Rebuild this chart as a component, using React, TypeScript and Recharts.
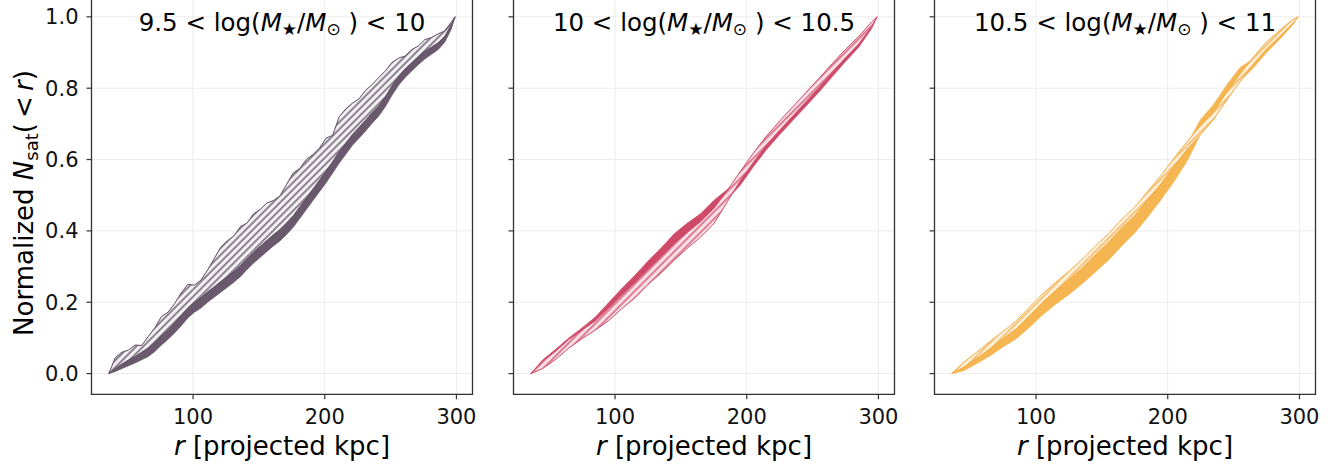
import React from 'react';
import { ComposedChart, Area, XAxis, YAxis, CartesianGrid, ReferenceArea } from 'recharts';

// ---- data (projected radius in kpc, normalized cumulative counts) ----
// panel 1 (9.5 < log M < 10) sampled more finely to keep its jagged edge
const R1 = [36, 41, 46, 51, 56, 61, 66, 71, 76, 81, 86, 91, 96, 101, 106, 111, 116, 121, 126, 131, 136, 141, 146, 151, 156, 161, 166, 171, 176, 181, 186, 191, 196, 201, 206, 211, 216, 221, 226, 231, 236, 241, 246, 251, 256, 261, 266, 271, 276, 281, 286, 291, 296, 299];
const P1_HATCH_HI = [0, 0.045, 0.06, 0.066, 0.08, 0.079, 0.104, 0.128, 0.16, 0.172, 0.196, 0.226, 0.25, 0.248, 0.262, 0.29, 0.322, 0.354, 0.372, 0.386, 0.412, 0.422, 0.448, 0.46, 0.478, 0.485, 0.498, 0.53, 0.562, 0.575, 0.6, 0.614, 0.632, 0.66, 0.668, 0.72, 0.742, 0.758, 0.77, 0.794, 0.81, 0.83, 0.848, 0.872, 0.884, 0.89, 0.908, 0.918, 0.936, 0.942, 0.952, 0.96, 0.985, 1.0];
const P1_HATCH_LO = [0, 0.014, 0.027, 0.038, 0.048, 0.06, 0.072, 0.088, 0.106, 0.123, 0.142, 0.162, 0.184, 0.2, 0.213, 0.229, 0.243, 0.258, 0.272, 0.286, 0.302, 0.322, 0.34, 0.357, 0.373, 0.389, 0.404, 0.422, 0.442, 0.467, 0.492, 0.517, 0.542, 0.567, 0.594, 0.622, 0.646, 0.67, 0.69, 0.71, 0.731, 0.75, 0.776, 0.806, 0.833, 0.854, 0.871, 0.888, 0.903, 0.915, 0.927, 0.945, 0.976, 1.0];
const P1_SOLID_HI = [0, 0.022, 0.037, 0.05, 0.062, 0.074, 0.087, 0.103, 0.121, 0.138, 0.157, 0.177, 0.199, 0.215, 0.228, 0.244, 0.258, 0.273, 0.287, 0.301, 0.317, 0.337, 0.355, 0.372, 0.388, 0.404, 0.419, 0.437, 0.457, 0.482, 0.507, 0.532, 0.557, 0.582, 0.609, 0.637, 0.661, 0.685, 0.705, 0.725, 0.746, 0.765, 0.791, 0.821, 0.848, 0.869, 0.886, 0.903, 0.918, 0.928, 0.938, 0.952, 0.98, 1.0];
const P1_SOLID_LO = [0, 0.006, 0.014, 0.022, 0.03, 0.039, 0.048, 0.062, 0.08, 0.096, 0.114, 0.134, 0.156, 0.172, 0.184, 0.2, 0.214, 0.228, 0.242, 0.256, 0.272, 0.292, 0.31, 0.326, 0.342, 0.358, 0.372, 0.39, 0.41, 0.435, 0.46, 0.485, 0.51, 0.535, 0.562, 0.59, 0.615, 0.64, 0.66, 0.68, 0.702, 0.722, 0.748, 0.78, 0.808, 0.83, 0.848, 0.866, 0.882, 0.895, 0.908, 0.928, 0.965, 1.0];

// panels 2 and 3
const R = [36, 45, 55, 65, 75, 85, 95, 105, 115, 125, 135, 145, 155, 165, 175, 185, 195, 205, 215, 225, 235, 245, 255, 265, 275, 285, 295, 299];

const P2_SOLID_LO = [0, 0.016, 0.043, 0.076, 0.103, 0.13, 0.168, 0.205, 0.24, 0.278, 0.314, 0.35, 0.382, 0.413, 0.45, 0.488, 0.528, 0.58, 0.628, 0.67, 0.71, 0.75, 0.79, 0.833, 0.875, 0.915, 0.968, 1];
const P2_SOLID_HI = [0, 0.038, 0.068, 0.1, 0.128, 0.158, 0.198, 0.238, 0.275, 0.315, 0.352, 0.392, 0.422, 0.448, 0.485, 0.515, 0.552, 0.604, 0.652, 0.694, 0.734, 0.774, 0.814, 0.856, 0.896, 0.934, 0.98, 1];
const P2_HATCH_LO = [0, 0.014, 0.04, 0.072, 0.098, 0.122, 0.148, 0.182, 0.212, 0.25, 0.282, 0.318, 0.352, 0.383, 0.42, 0.48, 0.54, 0.592, 0.64, 0.682, 0.722, 0.762, 0.802, 0.844, 0.885, 0.924, 0.973, 1];
const P2_HATCH_HI = [0, 0.035, 0.063, 0.096, 0.122, 0.148, 0.183, 0.22, 0.255, 0.292, 0.328, 0.365, 0.396, 0.426, 0.463, 0.512, 0.566, 0.618, 0.666, 0.708, 0.748, 0.788, 0.828, 0.869, 0.909, 0.945, 0.986, 1];

const P3_SOLID_LO = [0, 0.008, 0.028, 0.05, 0.075, 0.098, 0.13, 0.165, 0.195, 0.222, 0.252, 0.285, 0.318, 0.358, 0.395, 0.44, 0.488, 0.54, 0.598, 0.672, 0.715, 0.77, 0.82, 0.857, 0.9, 0.937, 0.978, 1];
const P3_SOLID_HI = [0, 0.024, 0.05, 0.078, 0.106, 0.135, 0.172, 0.21, 0.242, 0.272, 0.306, 0.343, 0.378, 0.418, 0.453, 0.498, 0.543, 0.593, 0.645, 0.712, 0.755, 0.81, 0.858, 0.882, 0.925, 0.958, 0.99, 1];
const P3_HATCH_LO = [0, 0.018, 0.043, 0.07, 0.098, 0.126, 0.163, 0.2, 0.233, 0.263, 0.296, 0.333, 0.368, 0.408, 0.443, 0.488, 0.533, 0.583, 0.63, 0.67, 0.713, 0.768, 0.818, 0.867, 0.91, 0.945, 0.982, 1];
const P3_HATCH_HI = [0, 0.032, 0.06, 0.09, 0.118, 0.148, 0.186, 0.224, 0.256, 0.287, 0.32, 0.357, 0.392, 0.432, 0.467, 0.512, 0.556, 0.605, 0.652, 0.695, 0.735, 0.79, 0.84, 0.887, 0.93, 0.962, 0.993, 1];

const X_TICKS = [100, 200, 300];
const Y_TICKS = [0, 0.2, 0.4, 0.6, 0.8, 1.0];
const BIN_LO = ['9.5', '10', '10.5'];
const BIN_HI = ['10', '10.5', '11'];

// ---- layout ----
const X_MIN = 22.9, X_MAX = 312.2, Y_MIN = -0.058, Y_MAX = 1.05;
const PANEL_LEFTS = [91.5, 513.2, 934.9];
const Y_AXIS_W = 91.5;
const PLOT_W = 381;
const PLOT_H = 395.3;
const CHART_TOP = -1;
const CHART_H = 469;
const RIGHT_M = 4;
const FONT = 'DejaVu Sans';

type Colors = { solid: string; line: string; bg: string };
const COLORS: Colors[] = [
  { solid: '#6a596d', line: '#5b4a5f', bg: '#f1eff2' },
  { solid: '#cf4a69', line: '#cf4a69', bg: '#f8dfe5' },
  { solid: '#f5b550', line: '#f2ad45', bg: '#fdf0db' },
];

function rows(rs: number[], hLo: number[], hHi: number[], sLo: number[], sHi: number[]) {
  return rs.map((r, i) => ({ r, hatch: [hLo[i], hHi[i]], solid: [sLo[i], sHi[i]] }));
}
const DATA = [
  rows(R1, P1_HATCH_LO, P1_HATCH_HI, P1_SOLID_LO, P1_SOLID_HI),
  rows(R, P2_HATCH_LO, P2_HATCH_HI, P2_SOLID_LO, P2_SOLID_HI),
  rows(R, P3_HATCH_LO, P3_HATCH_HI, P3_SOLID_LO, P3_SOLID_HI),
];

const CX = Y_AXIS_W + PLOT_W / 2;

function Title({ lo, hi }: { lo: string; hi: string }) {
  return (
    <text x={CX} y={31.7} textAnchor="middle" fontSize={24.5} fontFamily={FONT} fill="#000">
      <tspan>{lo + ' < log('}</tspan>
      <tspan fontStyle="italic">M</tspan>
      <tspan fontSize={17} dy={4}>★</tspan>
      <tspan dy={-4}>/</tspan>
      <tspan fontStyle="italic">M</tspan>
      <tspan fontSize={17} dy={4}>{'⊙'}</tspan>
      <tspan dy={-4}>{' ) < ' + hi}</tspan>
    </text>
  );
}

function XLabel() {
  return (
    <text x={CX} y={456} textAnchor="middle" fontSize={26} fontFamily={FONT} fill="#000">
      <tspan fontStyle="italic">r</tspan>
      <tspan>{' [projected kpc]'}</tspan>
    </text>
  );
}

function YLabel() {
  return (
    <text x={33} y={204} transform="rotate(-90, 33, 204)" textAnchor="middle" fontSize={26} fontFamily={FONT} fill="#000">
      <tspan>{'Normalized '}</tspan>
      <tspan fontStyle="italic">N</tspan>
      <tspan fontSize={18} dy={5}>sat</tspan>
      <tspan dy={-5}>{'(\u2009<\u2009'}</tspan>
      <tspan fontStyle="italic">r</tspan>
      <tspan>)</tspan>
    </text>
  );
}

function Panel({ idx }: { idx: number }) {
  const c = COLORS[idx];
  const pid = 'hatch' + idx;
  return (
    <div style={{ position: 'absolute', left: PANEL_LEFTS[idx] - Y_AXIS_W, top: CHART_TOP }}>
      <ComposedChart
        width={Y_AXIS_W + PLOT_W + RIGHT_M}
        height={CHART_H}
        data={DATA[idx]}
        margin={{ top: 0, right: RIGHT_M, left: 0, bottom: 0 }}
      >
        <defs>
          <pattern id={pid} patternUnits="userSpaceOnUse" width={5} height={5} patternTransform="rotate(45)">
            <rect x={0} y={0} width={5} height={5} fill={c.bg} />
            <line x1={2} y1={0} x2={2} y2={5} stroke={c.line} strokeWidth={1.3} />
          </pattern>
        </defs>
        <CartesianGrid stroke="#ececec" strokeWidth={1} />
        <XAxis
          type="number"
          dataKey="r"
          domain={[X_MIN, X_MAX]}
          ticks={X_TICKS}
          allowDataOverflow
          height={CHART_H - PLOT_H}
          axisLine={false}
          tickSize={5}
          tickMargin={10}
          tickLine={{ stroke: '#333', strokeWidth: 1.2 }}
          tick={{ fontSize: 21, fill: '#111', fontFamily: FONT }}
          label={<XLabel />}
        />
        <YAxis
          type="number"
          domain={[Y_MIN, Y_MAX]}
          ticks={Y_TICKS}
          allowDataOverflow
          width={Y_AXIS_W}
          axisLine={false}
          tickSize={5}
          tickMargin={8}
          tickLine={{ stroke: '#333', strokeWidth: 1.2 }}
          tick={{ fontSize: 21, fill: '#111', fontFamily: FONT }}
          tickFormatter={(v: number) => (idx === 0 ? v.toFixed(1) : '')}
          label={idx === 0 ? <YLabel /> : undefined}
        />
        <Area
          type="linear"
          dataKey="solid"
          fill={c.solid}
          fillOpacity={1}
          stroke={c.solid}
          strokeWidth={0.8}
          isAnimationActive={false}
          dot={false}
          activeDot={false}
        />
        <Area
          type="linear"
          dataKey="hatch"
          fill={`url(#${pid})`}
          fillOpacity={1}
          stroke={c.line}
          strokeWidth={1}
          isAnimationActive={false}
          dot={false}
          activeDot={false}
        />
        <ReferenceArea
          x1={X_MIN}
          x2={X_MAX}
          y1={Y_MIN}
          y2={Y_MAX}
          fill="none"
          stroke="#333"
          strokeWidth={1.3}
          label={<Title lo={BIN_LO[idx]} hi={BIN_HI[idx]} />}
        />
      </ComposedChart>
    </div>
  );
}

export default function App() {
  return (
    <div style={{ position: 'absolute', left: 0, top: 0, width: 1344, height: 467, background: '#fff', overflow: 'hidden' }}>
      <Panel idx={0} />
      <Panel idx={1} />
      <Panel idx={2} />
    </div>
  );
}
